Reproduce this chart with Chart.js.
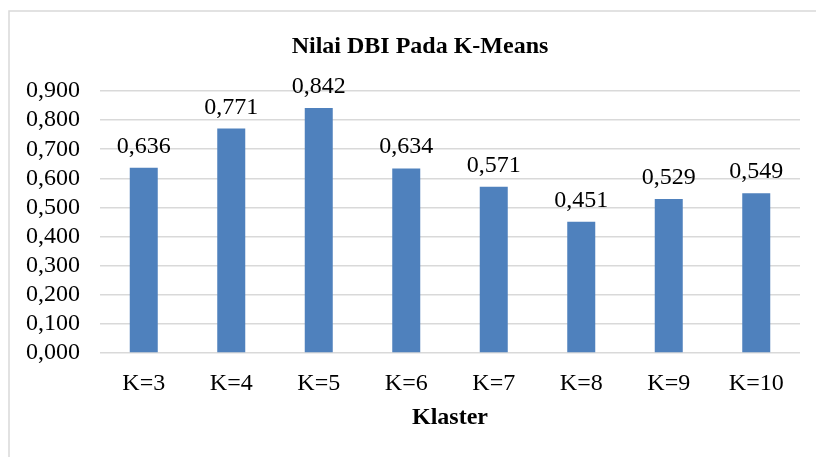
<!DOCTYPE html>
<html>
<head>
<meta charset="utf-8">
<script src="https://cdn.jsdelivr.net/npm/chart.js@4.4.1/dist/chart.umd.min.js"></script>
<style>
  html, body { margin: 0; padding: 0; background: #fff; }
  #wrap { width: 816px; height: 457px; position: relative; }
</style>
</head>
<body>
<div id="wrap"><canvas id="dbi-chart" width="816" height="457"></canvas></div>
<script>
const categories = ["K=3", "K=4", "K=5", "K=6", "K=7", "K=8", "K=9", "K=10"];
const dbiValues = [0.636, 0.771, 0.842, 0.634, 0.571, 0.451, 0.529, 0.549];
const yTickLabels = ["0,000", "0,100", "0,200", "0,300", "0,400", "0,500", "0,600", "0,700", "0,800", "0,900"];
const chartTitle = "Nilai DBI Pada K-Means";

const serif = "'Liberation Serif', 'Times New Roman', serif";

function fmt(v) {
  return v.toFixed(3).replace(".", ",");
}

// light gray frame around the whole chart (runs off the right and bottom edge)
// plus the title, centred on that frame rather than on the canvas
const framePlugin = {
  id: "frame",
  beforeDraw(chart) {
    const ctx = chart.ctx;
    ctx.save();
    ctx.strokeStyle = "#d9d9d9";
    ctx.lineWidth = 1.5;
    ctx.strokeRect(9, 11, 830, 470);
    ctx.font = "bold 24px " + serif;
    ctx.fillStyle = "#000";
    ctx.textAlign = "center";
    ctx.textBaseline = "alphabetic";
    ctx.fillText(chartTitle, 420, 53);
    ctx.restore();
  }
};

// numbers above the bars
const valueLabels = {
  id: "valueLabels",
  afterDatasetsDraw(chart) {
    const ctx = chart.ctx;
    const meta = chart.getDatasetMeta(0);
    ctx.save();
    ctx.font = "24px " + serif;
    ctx.fillStyle = "#000";
    ctx.textAlign = "center";
    ctx.textBaseline = "alphabetic";
    meta.data.forEach((bar, i) => {
      ctx.fillText(fmt(dbiValues[i]), bar.x, bar.y - 15);
    });
    ctx.restore();
  }
};

const ctx = document.getElementById("dbi-chart").getContext("2d");
new Chart(ctx, {
  type: "bar",
  data: {
    labels: categories,
    datasets: [{
      data: dbiValues,
      backgroundColor: "#4f81bd",
      barPercentage: 0.32,
      categoryPercentage: 1
    }]
  },
  options: {
    responsive: false,
    animation: false,
    layout: { padding: { left: 0, right: 16, top: 91, bottom: 0 } },
    plugins: {
      legend: { display: false },
      tooltip: { enabled: false },
      title: { display: false }
    },
    scales: {
      x: {
        grid: { display: false },
        border: { display: false },
        ticks: {
          color: "#000",
          font: { family: serif, size: 24 },
          padding: 8,
          maxRotation: 0
        },
        title: {
          display: true,
          text: "Klaster",
          color: "#000",
          font: { family: serif, size: 24, weight: "bold" },
          padding: { top: 0, bottom: 25 }
        },
        afterFit(scale) { scale.height = 104; }
      },
      y: {
        min: 0,
        max: 0.9,
        grid: { color: "#d9d9d9", lineWidth: 1.5, drawTicks: false },
        border: { display: false },
        ticks: {
          stepSize: 0.1,
          autoSkip: false,
          color: "#000",
          font: { family: serif, size: 24 },
          padding: 20,
          callback: (v, i) => yTickLabels[i]
        },
        afterFit(scale) { scale.width = 100; }
      }
    }
  },
  plugins: [framePlugin, valueLabels]
});
</script>
</body>
</html>
